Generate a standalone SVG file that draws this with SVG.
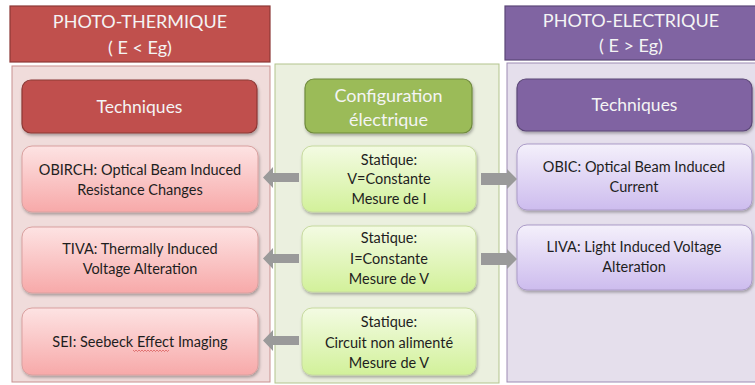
<svg xmlns="http://www.w3.org/2000/svg" width="755" height="385" viewBox="0 0 755 385">
<defs>
<linearGradient id="gRed" x1="0" y1="0" x2="0" y2="1"><stop offset="0" stop-color="#fde3e3"/><stop offset="1" stop-color="#f7a9a9"/></linearGradient>
<linearGradient id="gGreen" x1="0" y1="0" x2="0" y2="1"><stop offset="0" stop-color="#f3fbe3"/><stop offset="1" stop-color="#d2f19a"/></linearGradient>
<linearGradient id="gPurple" x1="0" y1="0" x2="0" y2="1"><stop offset="0" stop-color="#f4f0fb"/><stop offset="1" stop-color="#cdbcee"/></linearGradient>
<filter id="sh" x="-10%" y="-10%" width="125%" height="130%"><feDropShadow dx="1" dy="2" stdDeviation="1.5" flood-color="#000" flood-opacity="0.3"/></filter>
</defs>
<style>
text{font-family:Lato,"Open Sans","Liberation Sans",sans-serif;text-anchor:middle}
.hd{font-size:18px;fill:#f4f4f4}
.tq{font-size:17.5px;fill:#f4f4f4}
.cf{font-size:18px;fill:#f4f4f4}
.bx{font-size:14.5px;fill:#1e1e1e}
.redH{fill:#c0504d;stroke:#8c3836;stroke-width:1.2}
.redP{fill:#f0dcdb;stroke:#c8908f;stroke-width:1}
.redB{fill:url(#gRed);stroke:#d9a09f;stroke-width:1}
.grnP{fill:#ebf0df;stroke:#b3c48d;stroke-width:1}
.grnH{fill:#9bbb59;stroke:#6f8a3c;stroke-width:1.2}
.grnB{fill:url(#gGreen);stroke:#c7da9f;stroke-width:1}
.purH{fill:#8064a2;stroke:#5b4677;stroke-width:1.2}
.purP{fill:#e5dfec;stroke:#9d8bb4;stroke-width:1}
.purB{fill:url(#gPurple);stroke:#ab9bc8;stroke-width:1}
.arr{fill:#9a9a9a}
</style>
<rect width="755" height="385" fill="#ffffff"/>

<g id="panel-thermique">
<rect class="redP" x="12" y="66" width="258" height="316"/>
</g>
<g id="panel-config">
<rect class="grnP" x="275" y="64" width="224" height="319"/>
</g>
<g id="panel-electrique">
<rect class="purP" x="507" y="63" width="250" height="319"/>
</g>

<g id="header-thermique">
<rect class="redH" x="10" y="6" width="260" height="56"/>
<text class="hd" x="140" y="28">PHOTO-THERMIQUE</text>
<text class="hd" x="140" y="54">( E &lt; Eg)</text>
</g>
<g id="header-electrique">
<rect class="purH" x="505" y="6" width="252" height="54"/>
<text class="hd" x="631" y="27">PHOTO-ELECTRIQUE</text>
<text class="hd" x="631" y="52">( E &gt; Eg)</text>
</g>

<g id="tech-thermique">
<rect class="redH" x="22" y="80" width="235" height="53" rx="9" filter="url(#sh)"/>
<text class="tq" x="139.5" y="113">Techniques</text>
</g>
<g id="config">
<rect class="grnH" x="305" y="79" width="167" height="54" rx="9" filter="url(#sh)"/>
<text class="cf" x="388.5" y="102">Configuration</text>
<text class="cf" x="388.5" y="126">électrique</text>
</g>
<g id="tech-electrique">
<rect class="purH" x="517" y="79" width="235" height="52" rx="9" filter="url(#sh)"/>
<text class="tq" x="634.5" y="111">Techniques</text>
</g>

<g id="obirch">
<rect class="redB" x="22" y="146" width="236" height="66" rx="10" filter="url(#sh)"/>
<text class="bx" x="140" y="175">OBIRCH: Optical Beam Induced</text>
<text class="bx" x="140" y="195">Resistance Changes</text>
</g>
<g id="tiva">
<rect class="redB" x="22" y="227" width="236" height="66" rx="10" filter="url(#sh)"/>
<text class="bx" x="140" y="254">TIVA: Thermally Induced</text>
<text class="bx" x="140" y="274">Voltage Alteration</text>
</g>
<g id="sei">
<rect class="redB" x="22" y="308" width="236" height="67" rx="10" filter="url(#sh)"/>
<text class="bx" x="140" y="347">SEI: Seebeck Effect Imaging</text>
<path d="M133 350 l1.5 1.5 l1.5 -1.5 l1.5 1.5 l1.5 -1.5 l1.5 1.5 l1.5 -1.5 l1.5 1.5 l1.5 -1.5 l1.5 1.5 l1.5 -1.5 l1.5 1.5 l1.5 -1.5 l1.5 1.5 l1.5 -1.5 l1.5 1.5 l1.5 -1.5 l1.5 1.5 l1.5 -1.5 l1.5 1.5 l1.5 -1.5 l1.5 1.5 l1.5 -1.5 l1.5 1.5 l1.5 -1.5" fill="none" stroke="#d04040" stroke-width="0.6"/>
</g>

<g id="statique-1">
<rect class="grnB" x="302" y="146" width="174" height="66" rx="10" filter="url(#sh)"/>
<text class="bx" x="389" y="165">Statique:</text>
<text class="bx" x="389" y="184">V=Constante</text>
<text class="bx" x="389" y="204">Mesure de I</text>
</g>
<g id="statique-2">
<rect class="grnB" x="302" y="226" width="174" height="66" rx="10" filter="url(#sh)"/>
<text class="bx" x="389" y="243">Statique:</text>
<text class="bx" x="389" y="264">I=Constante</text>
<text class="bx" x="389" y="284">Mesure de V</text>
</g>
<g id="statique-3">
<rect class="grnB" x="302" y="308" width="174" height="67" rx="10" filter="url(#sh)"/>
<text class="bx" x="389" y="327">Statique:</text>
<text class="bx" x="389" y="348">Circuit non alimenté</text>
<text class="bx" x="389" y="368">Mesure de V</text>
</g>

<g id="obic">
<rect class="purB" x="517" y="144" width="235" height="66" rx="10" filter="url(#sh)"/>
<text class="bx" x="634" y="172">OBIC: Optical Beam Induced</text>
<text class="bx" x="634" y="192">Current</text>
</g>
<g id="liva">
<rect class="purB" x="517" y="225" width="235" height="65" rx="10" filter="url(#sh)"/>
<text class="bx" x="634" y="252">LIVA: Light Induced Voltage</text>
<text class="bx" x="634" y="272">Alteration</text>
</g>

<g id="connectors">
<polygon class="arr" points="299,173 273,173 273,167 263,177.5 273,188 273,182 299,182"/>
<polygon class="arr" points="299,254 273,254 273,248 263,258.5 273,269 273,263 299,263"/>
<polygon class="arr" points="299,336 273,336 273,330 263,340.5 273,351 273,345 299,345"/>
<polygon class="arr" points="481,173 507,173 507,169 517,179 507,189 507,185 481,185"/>
<polygon class="arr" points="481,253 507,253 507,249 517,259 507,269 507,265 481,265"/>
</g>
</svg>
